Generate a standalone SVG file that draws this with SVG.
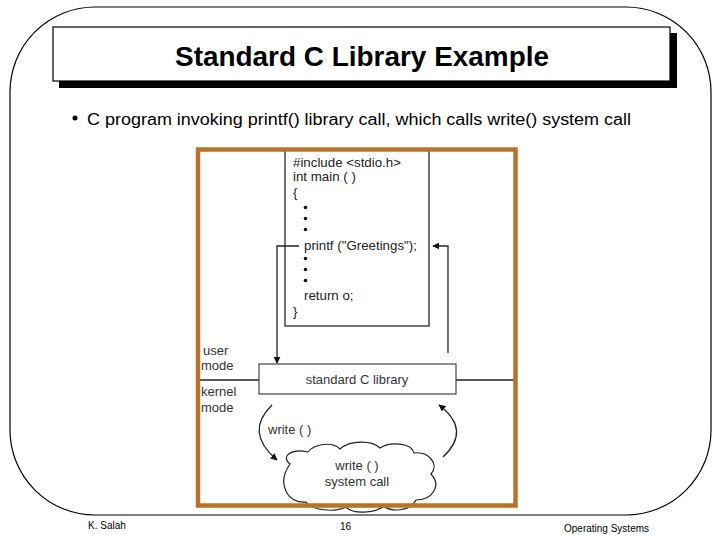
<svg xmlns="http://www.w3.org/2000/svg" width="720" height="540" viewBox="0 0 720 540">
<defs>
<style>
.sans{font-family:"Liberation Sans",Arial,sans-serif;}
.code{font-family:"Liberation Sans",Arial,sans-serif;font-size:13.3px;fill:#222;}
.lbl{font-family:"Liberation Sans",Arial,sans-serif;font-size:13px;fill:#333;}
.ln{stroke:#222;stroke-width:1.3;fill:none;}
.foot{font-family:"Liberation Sans",Arial,sans-serif;font-size:10px;fill:#000;}
</style>
<marker id="ah" viewBox="0 0 10 10" refX="9" refY="5" markerWidth="7" markerHeight="7" markerUnits="userSpaceOnUse" orient="auto">
<path d="M0,0 L10,5 L0,10 Z" fill="#111"/>
</marker>
</defs>
<rect width="720" height="540" fill="#fff"/>
<g id="slide-border">
<rect x="10" y="7" width="701" height="508" rx="85" ry="85" fill="none" stroke="#000" stroke-width="1.2"/>
</g>
<g id="title">
<rect x="59" y="33" width="618" height="55" fill="#000"/>
<rect x="53" y="27" width="617" height="54" fill="#fff" stroke="#000" stroke-width="1.2"/>
<text x="175" y="66" class="sans" font-size="28" font-weight="bold" textLength="374" lengthAdjust="spacingAndGlyphs">Standard C Library Example</text>
</g>
<g id="bullet">
<circle cx="75" cy="118" r="2.5" fill="#000"/>
<text x="87" y="125" class="sans" font-size="16" textLength="544" lengthAdjust="spacingAndGlyphs">C program invoking printf() library call, which calls write() system call</text>
</g>
<g id="figure">
<g id="code-box">
<path d="M285 151 L285 326 L429 326 L429 151" fill="none" stroke="#444" stroke-width="1.5"/>
<text x="293" y="167" class="code">#include &lt;stdio.h&gt;</text>
<text x="293" y="181" class="code">int main ( )</text>
<text x="293" y="197" class="code">{</text>
<circle cx="305.5" cy="207.5" r="1.8" fill="#111"/>
<circle cx="305.5" cy="218.5" r="1.8" fill="#111"/>
<circle cx="305.5" cy="229.5" r="1.8" fill="#111"/>
<text x="304" y="250" class="code">printf ("Greetings");</text>
<circle cx="305.5" cy="258.5" r="1.8" fill="#111"/>
<circle cx="305.5" cy="269.5" r="1.8" fill="#111"/>
<circle cx="305.5" cy="280.5" r="1.8" fill="#111"/>
<text x="304" y="300" class="code">return o;</text>
<text x="293" y="316" class="code">}</text>
</g>
<g id="mode-line">
<line x1="200" y1="380" x2="259" y2="380" class="ln"/>
<line x1="456" y1="380" x2="514" y2="380" class="ln"/>
<text x="203" y="355" class="lbl">user</text>
<text x="201" y="370" class="lbl">mode</text>
<text x="201" y="396" class="lbl">kernel</text>
<text x="201" y="412" class="lbl">mode</text>
</g>
<g id="stdlib">
<rect x="259" y="364" width="197" height="30" fill="#fff" stroke="#444" stroke-width="1.2"/>
<text x="357" y="384" text-anchor="middle" class="lbl">standard C library</text>
</g>
<g id="syscall">
<path d="M290 464 C280 456 292 448 308 452 C314 444 332 441 340 449 C350 440 372 440 380 448 C390 441 412 443 414 453 C428 451 440 464 431 474 C442 486 432 500 416 500 C410 512 390 512 384 506 C374 514 352 514 346 507 C334 513 312 510 306 502 C288 504 276 484 290 464 Z" fill="#fff" stroke="#222" stroke-width="1.2"/>
<text x="357" y="470" text-anchor="middle" class="lbl">write ( )</text>
<text x="357" y="486" text-anchor="middle" class="lbl">system call</text>
</g>
<g id="connectors">
<path d="M299 246 L277 246 L277 363" class="ln" marker-end="url(#ah)"/>
<path d="M448 353 L448 246 L433 246" class="ln" marker-end="url(#ah)"/>
<path d="M272 405 Q244 432 277 460" class="ln" marker-end="url(#ah)"/>
<path d="M443 457 Q472 430 439 405" class="ln" marker-end="url(#ah)"/>
<text x="268" y="434" class="lbl">write ( )</text>
</g>
<rect x="198" y="149.5" width="317.5" height="356" fill="none" stroke="#B8732A" stroke-width="4.5"/>
</g>
<g id="footer">
<text x="88" y="529" class="foot">K. Salah</text>
<text x="340" y="530" class="foot">16</text>
<text x="564" y="532" class="foot">Operating Systems</text>
</g>
</svg>
